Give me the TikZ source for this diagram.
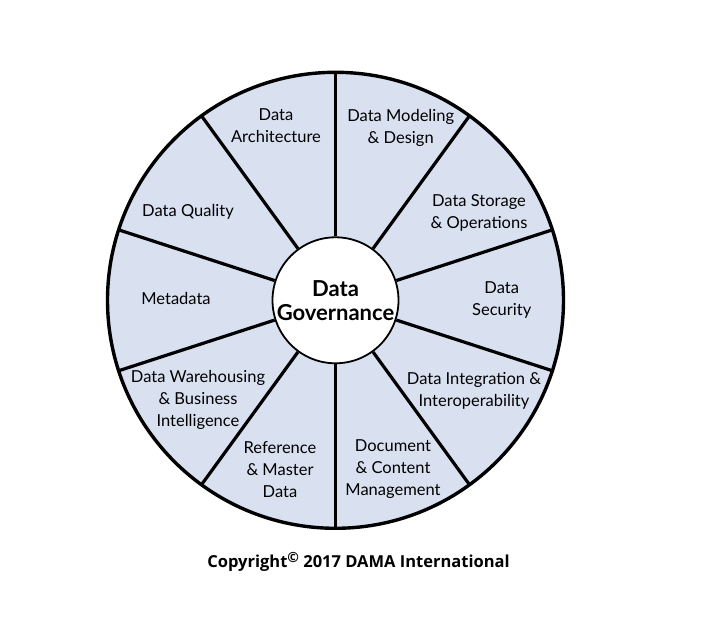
\documentclass[tikz,border=0pt]{standalone}
\usepackage{fontspec}
\setmainfont{Lato}
\newfontfamily\copyfont{Open Sans}
\definecolor{wheelblue}{RGB}{217,225,241}

\begin{document}
\begin{tikzpicture}[
    x=1pt, y=1pt,
    spoke/.style={line width=3.2pt, black},
    rim/.style={line width=3.4pt, draw=black, fill=wheelblue},
    hub/.style={circle, draw=black, line width=1.8pt, fill=white,
                minimum size=126pt, inner sep=0pt, align=center,
                font=\fontsize{22}{24}\selectfont\bfseries},
    area/.style={align=center, inner sep=0pt,
                 font=\fontsize{16.5}{22}\selectfont},
    note/.style={font=\copyfont\fontsize{16.5}{18}\selectfont\bfseries},
]
\def\R{228}
\useasboundingbox (-335.5,-338.7) rectangle (383.5,300.3);

% Outer wheel
\draw[rim] (0,0) circle (\R);

% Hub
\node[hub] (gov) at (0,0) {Data\\Governance};

% Spokes from hub to rim
\foreach \a in {90,54,...,-234}
  \draw[spoke] (gov.\a) -- (\a:\R);

% Knowledge areas, clockwise from the top
\node[area] (arch)  at (-59.5,174.3)  {Data\\Architecture};
\node[area] (model) at (65.2,172.3)   {Data Modeling\\\& Design};
\node[area] (store) at (143.5,87.3)   {Data Storage\\\& Operations};
\node[area] (sec)   at (166.2,0.3)    {Data\\Security};
\node[area] (integ) at (138.5,-90.2)  {Data Integration \&\\Interoperability};
\node[area] (doc)   at (57.5,-169.2)  {Document\\\& Content\\Management};
\node[area] (ref)   at (-55.5,-169.7) {Reference\\\& Master\\Data};
\node[area] (dwbi)  at (-137.5,-99.7) {Data Warehousing\\\& Business\\Intelligence};
\node[area] (meta)  at (-159.5,2.3)   {Metadata};
\node[area] (qual)  at (-147.5,88.6)  {Data Quality};

% Copyright line
\node[note] (copy) at (23,-261.7)
  {Copyright\raisebox{0.55ex}{\fontsize{14}{14}\selectfont©} 2017 DAMA International};
\end{tikzpicture}
\end{document}
